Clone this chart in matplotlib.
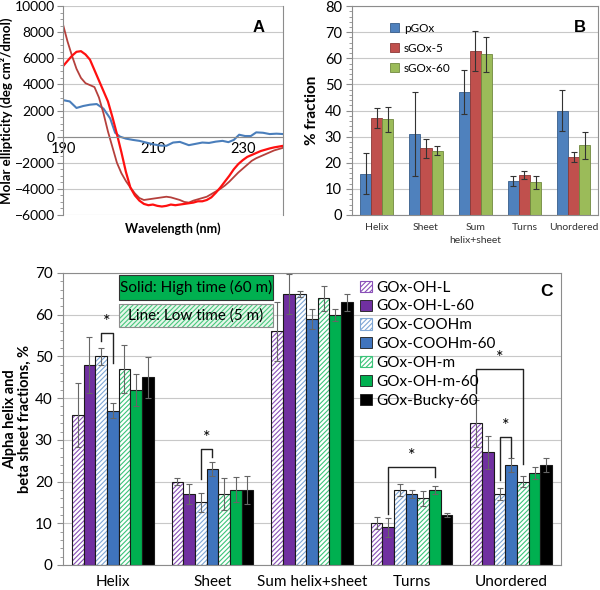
import numpy as np
import matplotlib
matplotlib.use("Agg")
import matplotlib.pyplot as plt
from matplotlib.patches import Rectangle, Patch
from matplotlib.ticker import MultipleLocator

plt.rcParams["font.family"] = ["Lato", "DejaVu Sans"]
plt.rcParams["hatch.linewidth"] = 0.8

# ---------------- Panel A: CD spectra ----------------
wl_blue = [190, 191.5, 193, 194.5, 196, 197.5, 199, 200.5, 201.6, 202.7, 204, 205.6,
           207, 208.5, 210, 211.6, 213, 214.5, 216, 216.8, 218, 219.5, 221, 222.5,
           224, 225.5, 226.8, 228, 229.2, 230.5, 231.8, 233, 234.5, 236, 237.5, 239]
cd_blue = [2800, 2700, 2200, 2350, 2450, 2500, 2150, 1400, 300, 0, -150, -250,
           -320, -450, -580, -680, -700, -450, -400, -500, -650, -550, -450, -480,
           -380, -320, -420, -250, 150, 50, 50, 330, 300, 200, 230, 200]

wl_red = list(range(190, 240))
cd_red = [5400, 5800, 6200, 6500, 6550, 6300, 5900, 5100, 4300, 3500,
          2700, 1500, 200, -1200, -2700, -3900, -4500, -4900, -5150, -5250,
          -5200, -5300, -5350, -5300, -5200, -5250, -5200, -5150, -5100, -5050,
          -4950, -4950, -4850, -4650, -4300, -3900, -3450, -3000, -2500, -2100,
          -1800, -1550, -1400, -1250, -1100, -1000, -900, -820, -760, -700]
cd_dark = [8600, 7300, 6200, 5200, 4500, 4100, 3950, 3800, 3000, 1800,
           400, -800, -2000, -2800, -3400, -3900, -4350, -4700, -4850, -4800,
           -4750, -4700, -4650, -4600, -4650, -4750, -4850, -5000, -5050, -4900,
           -4800, -4700, -4600, -4400, -4200, -4000, -3750, -3450, -3100, -2750,
           -2450, -2150, -1850, -1650, -1500, -1350, -1200, -1050, -950, -850]

# ---------------- Panel B ----------------
b_cats = ["Helix", "Sheet", "Sum\nhelix+sheet", "Turns", "Unordered"]
b_names = ["pGOx", "sGOx-5", "sGOx-60"]
b_vals = [[15.8, 31.0, 47.0, 13.0, 40.0],
          [37.0, 25.5, 62.8, 15.2, 22.3],
          [36.6, 24.7, 61.5, 12.5, 26.7]]
b_errs = [[7.9, 16.0, 8.4, 1.9, 7.8],
          [3.8, 3.7, 7.5, 1.6, 1.9],
          [4.8, 1.8, 6.6, 2.4, 5.2]]
b_colors = ["#4f81bd", "#c0504d", "#9bbb59"]
b_edges = ["#385d8a", "#8c3836", "#71893f"]

# ---------------- Panel C ----------------
c_cats = ["Helix", "Sheet", "Sum helix+sheet", "Turns", "Unordered"]
c_names = ["GOx-OH-L", "GOx-OH-L-60", "GOx-COOHm", "GOx-COOHm-60",
           "GOx-OH-m", "GOx-OH-m-60", "GOx-Bucky-60"]
c_vals = [[36, 20, 56, 10, 34],
          [48, 17, 65, 9, 27],
          [50, 15, 65, 18, 17],
          [37, 23, 59, 17, 24],
          [47, 17, 64, 16, 20],
          [42, 18, 60, 18, 22],
          [45, 18, 63, 12, 24]]
c_errs = [[7.7, 0.8, 7.0, 1.4, 5.6],
          [6.7, 2.4, 4.8, 2.2, 4.0],
          [2.1, 2.2, 0.8, 1.4, 1.4],
          [1.8, 1.7, 2.4, 1.0, 1.6],
          [5.7, 3.8, 3.0, 1.8, 1.4],
          [3.8, 3.0, 1.4, 1.0, 1.4],
          [4.9, 3.4, 2.0, 0.4, 1.6]]
c_colors = ["#7030a0", "#7030a0", "#4f81bd", "#3f74bd", "#00b050", "#00b050", "#000000"]
c_hatch_colors = ["#8a50b8", None, "#7fa7d6", None, "#3cc47a", None, None]

# significance brackets: (category, bar a, bar b, top, left end, right end)
c_sig = [(0, 2, 3, 55.6, 53.8, 48.4),
         (1, 2, 3, 27.8, 20.6, 25.8),
         (3, 1, 5, 23.4, 12.2, 21.2),
         (4, 0, 4, 47.0, 41.2, 24.2),
         (4, 2, 3, 30.6, 20.4, 26.0)]

fig = plt.figure(figsize=(6.0, 5.9), dpi=100)

# ---- A ----
axA = fig.add_axes([0.105, 0.6356, 0.367, 0.354])
axA.plot(wl_blue, cd_blue, color="#4a7ebb", lw=1.5)
axA.plot(wl_red, cd_dark, color="#b5403c", lw=1.3)
axA.plot(wl_red, cd_red, color="#ff1010", lw=1.6)
axA.set_xlim(190, 239)
axA.set_ylim(-6000, 10000)
axA.set_yticks(np.arange(-6000, 10001, 2000))
axA.yaxis.set_minor_locator(MultipleLocator(500))
axA.set_xticks([190, 210, 230])
axA.grid(axis="y", color="#c8c8c8", lw=0.8)
axA.set_axisbelow(True)
axA.spines["bottom"].set_position(("data", 0))
axA.spines["bottom"].set_color("#8c8c8c")
axA.spines["top"].set_visible(False)
axA.spines["right"].set_color("#8c8c8c")
axA.spines["left"].set_color("#8c8c8c")
axA.tick_params(axis="x", length=0, labelsize=10.5, pad=4)
axA.tick_params(axis="y", labelsize=10, length=4, pad=2, color="#8c8c8c")
axA.tick_params(axis="y", which="minor", length=2.5, color="#8c8c8c")
axA.set_ylabel("Molar ellipticity (deg cm²/dmol)", fontsize=9.5, fontweight="bold")
axA.yaxis.set_label_coords(-0.228, 0.5)
axA.text(0.5, -0.065, "Wavelength (nm)", transform=axA.transAxes, ha="center", va="center",
         fontsize=9, fontweight="bold")
axA.text(0.89, 0.9, "A", transform=axA.transAxes, fontsize=12, fontweight="bold",
         family="Liberation Sans", ha="center", va="center")

# ---- B ----
axB = fig.add_axes([0.587, 0.6356, 0.41, 0.354])
xb = np.arange(len(b_cats))
wb = 0.226
for i in range(3):
    axB.bar(xb + (i - 1) * wb, b_vals[i], wb, color=b_colors[i], edgecolor=b_edges[i],
            lw=0.6, label=b_names[i], zorder=2)
    axB.errorbar(xb + (i - 1) * wb, b_vals[i], yerr=b_errs[i], fmt="none",
                 ecolor="#333333", elinewidth=0.8, capsize=2, capthick=0.8, zorder=3)
axB.set_xlim(-0.5, 4.5)
axB.set_ylim(0, 80)
axB.set_yticks(np.arange(0, 81, 10))
axB.yaxis.set_minor_locator(MultipleLocator(2))
axB.set_xticks(xb)
axB.set_xticklabels(b_cats, fontsize=7.5, color="#333333", linespacing=1.5)
axB.grid(axis="y", color="#c8c8c8", lw=0.8)
axB.set_axisbelow(True)
for s in axB.spines.values():
    s.set_color("#8c8c8c")
axB.tick_params(axis="x", length=0, pad=6)
axB.tick_params(axis="y", labelsize=10.5, length=4, color="#8c8c8c")
axB.tick_params(axis="y", which="minor", length=2.5, color="#8c8c8c")
axB.set_ylabel("% fraction", fontsize=11, fontweight="bold", labelpad=4)
axB.legend(loc="upper left", bbox_to_anchor=(0.11, 0.97), frameon=False, fontsize=8.5,
           handlelength=0.8, handleheight=0.8, handletextpad=0.4, labelspacing=0.75)
axB.text(0.927, 0.9, "B", transform=axB.transAxes, fontsize=12, fontweight="bold",
         family="Liberation Sans", ha="center", va="center")

# ---- C ----
axC = fig.add_axes([0.105, 0.0424, 0.83, 0.4949])
xc = np.arange(len(c_cats))
wc = 0.117
hatch = "///////"
handles = []
for i in range(7):
    pos = xc + (i - 3) * wc
    if c_hatch_colors[i] is not None:
        axC.bar(pos, c_vals[i], wc, color="white", hatch=hatch,
                edgecolor=c_hatch_colors[i], lw=0, zorder=2)
        axC.bar(pos, c_vals[i], wc, fill=False, edgecolor="#1a1a1a", lw=0.8, zorder=2)
        handles.append(Patch(facecolor="white", edgecolor=c_hatch_colors[i], hatch=hatch,
                             lw=0.8))
    else:
        axC.bar(pos, c_vals[i], wc, color=c_colors[i], edgecolor="#1a1a1a", lw=0.8, zorder=2)
        handles.append(Patch(facecolor=c_colors[i], edgecolor="#1a1a1a", lw=0.6))
    axC.errorbar(pos, c_vals[i], yerr=c_errs[i], fmt="none", ecolor="#666666",
                 elinewidth=0.8, capsize=2.5, capthick=0.8, zorder=3)

for cat, a, b, top, ya, yb in c_sig:
    xa = cat + (a - 3) * wc
    xbb = cat + (b - 3) * wc
    axC.plot([xa, xa, xbb, xbb], [ya, top, top, yb], color="#222222", lw=1.0, zorder=4)
    axC.text((xa + xbb) / 2, top + 0.8, "*", ha="center", va="bottom", fontsize=13, zorder=4)

axC.set_xlim(-0.5, 4.5)
axC.set_ylim(0, 70)
axC.set_yticks(np.arange(0, 71, 10))
axC.yaxis.set_minor_locator(MultipleLocator(2))
axC.set_xticks(xc)
axC.set_xticklabels(c_cats, fontsize=11)
axC.grid(axis="y", color="#c8c8c8", lw=0.8)
axC.set_axisbelow(True)
for s in axC.spines.values():
    s.set_color("#8c8c8c")
axC.tick_params(axis="x", length=0, pad=7)
axC.tick_params(axis="y", labelsize=11, length=4, color="#8c8c8c")
axC.tick_params(axis="y", which="minor", length=2.5, color="#8c8c8c")
axC.set_ylabel("Alpha helix and\nbeta sheet fractions, %", fontsize=10.5, fontweight="bold",
               linespacing=1.1)
axC.yaxis.set_label_coords(-0.062, 0.5)
axC.legend(handles, c_names, loc="upper left", bbox_to_anchor=(0.585, 0.995), frameon=False,
           fontsize=11, handlelength=0.75, handleheight=0.75, handletextpad=0.3,
           labelspacing=0.32, borderaxespad=0)
axC.text(0.971, 0.936, "C", transform=axC.transAxes, fontsize=12.5, fontweight="bold",
         family="Liberation Sans", ha="center", va="center")

# key boxes for solid / hatched
axC.add_patch(Rectangle((0.1124, 0.9075), 0.309, 0.0856, transform=axC.transAxes,
                        facecolor="#00b050", edgecolor="#333333", lw=0.8, zorder=5))
axC.text(0.1124 + 0.309 / 2, 0.9075 + 0.0428, "Solid: High time (60 m)",
         transform=axC.transAxes, ha="center", va="center", fontsize=11, zorder=6)
axC.add_patch(Rectangle((0.1124, 0.815), 0.309, 0.0788, transform=axC.transAxes,
                        facecolor="#e6f7ea", hatch=hatch, edgecolor="#49c77f", lw=0,
                        zorder=5))
axC.add_patch(Rectangle((0.1124, 0.815), 0.309, 0.0788, transform=axC.transAxes,
                        fill=False, edgecolor="#8c8c8c", lw=0.8, zorder=5))
axC.text(0.1124 + 0.309 / 2, 0.815 + 0.0394, "Line: Low time (5 m)",
         transform=axC.transAxes, ha="center", va="center", fontsize=11, zorder=6)

fig.savefig("out.png", dpi=100)
